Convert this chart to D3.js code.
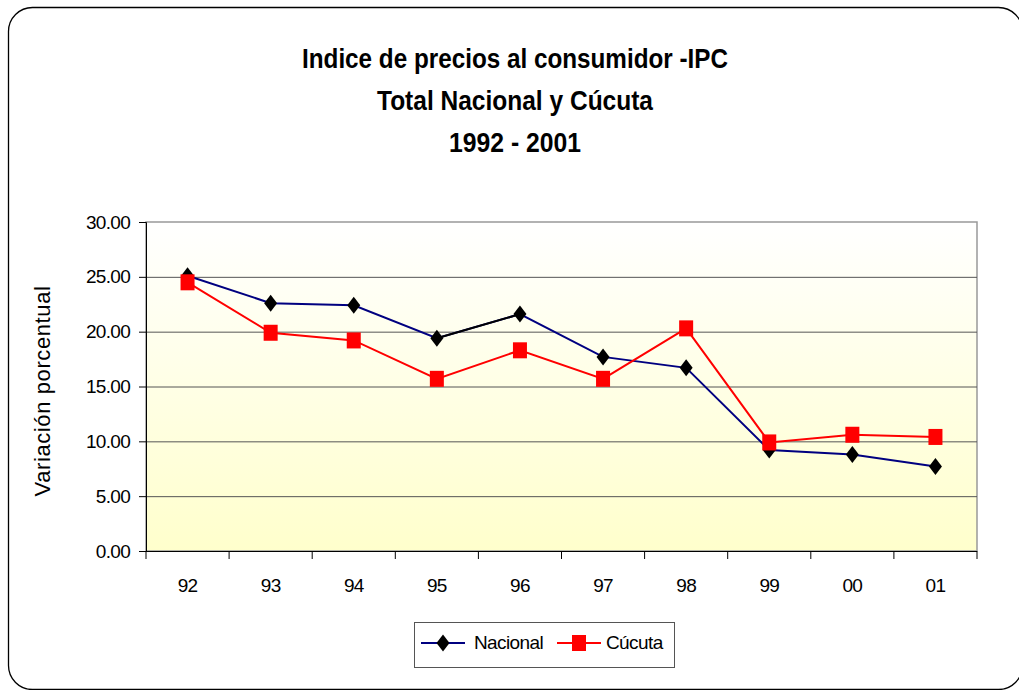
<!DOCTYPE html>
<html>
<head>
<meta charset="utf-8">
<script src="https://cdn.jsdelivr.net/npm/d3@7"></script>
<style>
  body { margin: 0; background: #fff; }
  svg { display: block; font-family: 'Liberation Sans', Arial, sans-serif; }
</style>
</head>
<body>
<svg id="chart" width="1019" height="690"></svg>
<script>
// data
const years = ['92', '93', '94', '95', '96', '97', '98', '99', '00', '01'];
const nacional = [25.1, 22.6, 22.4, 19.4, 21.6, 17.7, 16.7, 9.2, 8.8, 7.7];
const cucuta = [24.5, 19.9, 19.2, 15.7, 18.3, 15.7, 20.3, 9.9, 10.6, 10.4];
const yTicks = [0, 5, 10, 15, 20, 25, 30];
const titleLines = ['Indice de precios al consumidor -IPC', 'Total Nacional y Cúcuta', '1992 - 2001'];
// the 95-96 piece of the Nacional line is drawn black in the original
const blackSegment = ['95', '96'];

const svg = d3.select('#chart');
const plot = { left: 146, top: 222, right: 977, bottom: 551 };

// outer rounded frame, right and bottom run off the picture
svg.append('rect')
  .attr('x', 8.5).attr('y', 7.5)
  .attr('width', 1014).attr('height', 682)
  .attr('rx', 24)
  .attr('fill', 'none')
  .attr('stroke', '#000')
  .attr('stroke-width', 1.3);

// title
const titleWidths = [426, 276, 132];
svg.append('g')
  .selectAll('text')
  .data(titleLines)
  .join('text')
  .attr('x', 515)
  .attr('y', (d, i) => 68 + i * 42)
  .attr('text-anchor', 'middle')
  .attr('font-size', 28)
  .attr('font-weight', 'bold')
  .attr('textLength', (d, i) => titleWidths[i])
  .attr('lengthAdjust', 'spacingAndGlyphs')
  .text((d) => d);

const x = d3.scaleBand().domain(years).range([plot.left, plot.right]);
const y = d3.scaleLinear().domain([0, 30]).range([plot.bottom, plot.top]);

// plot background gradient
const grad = svg.append('defs').append('linearGradient')
  .attr('id', 'bg').attr('x1', 0).attr('y1', 0).attr('x2', 0).attr('y2', 1);
grad.append('stop').attr('offset', '0%').attr('stop-color', '#ffffff');
grad.append('stop').attr('offset', '100%').attr('stop-color', '#ffffcc');

svg.append('rect')
  .attr('x', plot.left).attr('y', plot.top)
  .attr('width', plot.right - plot.left).attr('height', plot.bottom - plot.top)
  .attr('fill', 'url(#bg)')
  .attr('stroke', '#999')
  .attr('stroke-width', 1.5);

// gridlines
svg.append('g')
  .selectAll('line')
  .data(yTicks.filter((t) => t > 0 && t < 30))
  .join('line')
  .attr('x1', plot.left).attr('x2', plot.right)
  .attr('y1', (d) => y(d) + 0.5).attr('y2', (d) => y(d) + 0.5)
  .attr('stroke', '#555')
  .attr('stroke-width', 1);

// y axis
const yAxis = svg.append('g')
  .attr('transform', `translate(${plot.left},0)`)
  .call(d3.axisLeft(y).tickValues(yTicks).tickFormat(d3.format('.2f')).tickSize(7).tickPadding(9));
yAxis.select('.domain').attr('stroke', '#000');
yAxis.selectAll('.tick line').attr('stroke', '#000');
yAxis.selectAll('text').attr('font-size', 19).attr('letter-spacing', -0.7)
  .attr('font-family', 'Liberation Sans, Arial, sans-serif').attr('fill', '#000');

// x axis: ticks fall between categories
const xAxis = svg.append('g')
  .attr('transform', `translate(0,${plot.bottom})`)
  .call(d3.axisBottom(x).tickSize(0).tickPadding(28));
xAxis.select('.domain').attr('stroke', '#000').attr('d', `M${plot.left},0.5H${plot.right}`);
xAxis.selectAll('text').attr('font-size', 19).attr('letter-spacing', -0.7)
  .attr('font-family', 'Liberation Sans, Arial, sans-serif').attr('fill', '#000');
xAxis.selectAll('.sep')
  .data(years.concat(['end']))
  .join('line')
  .attr('class', 'sep')
  .attr('x1', (d, i) => plot.left + i * x.bandwidth())
  .attr('x2', (d, i) => plot.left + i * x.bandwidth())
  .attr('y1', 0).attr('y2', 8)
  .attr('stroke', '#000');

// y title
svg.append('text')
  .attr('transform', 'translate(50,391) rotate(-90)')
  .attr('text-anchor', 'middle')
  .attr('font-size', 22)
  .attr('letter-spacing', 0.6)
  .text('Variación porcentual');

const cx = (d, i) => x(years[i]) + x.bandwidth() / 2;
const line = d3.line().x(cx).y((d) => y(d));

svg.append('path')
  .datum(nacional)
  .attr('d', line)
  .attr('fill', 'none')
  .attr('stroke', '#000080')
  .attr('stroke-width', 2);

const bi = years.indexOf(blackSegment[0]);
svg.append('path')
  .datum(nacional.slice(bi, bi + 2))
  .attr('d', d3.line().x((d, i) => cx(d, bi + i)).y((d) => y(d)))
  .attr('fill', 'none')
  .attr('stroke', '#000')
  .attr('stroke-width', 2);

svg.append('path')
  .datum(cucuta)
  .attr('d', line)
  .attr('fill', 'none')
  .attr('stroke', '#ff0000')
  .attr('stroke-width', 2);

const diamond = 'M0,-8.5L6.5,0L0,8.5L-6.5,0Z';

svg.append('g')
  .selectAll('path')
  .data(nacional)
  .join('path')
  .attr('d', diamond)
  .attr('transform', (d, i) => `translate(${cx(d, i)},${y(d)})`)
  .attr('fill', '#000');

svg.append('g')
  .selectAll('rect')
  .data(cucuta)
  .join('rect')
  .attr('x', (d, i) => cx(d, i) - 7)
  .attr('y', (d) => y(d) - 8)
  .attr('width', 14).attr('height', 16)
  .attr('fill', '#ff0000');

// legend
const legend = svg.append('g');
legend.append('rect')
  .attr('x', 414.5).attr('y', 622.5)
  .attr('width', 260).attr('height', 45)
  .attr('fill', '#fff')
  .attr('stroke', '#555')
  .attr('stroke-width', 1);

legend.append('line').attr('x1', 421).attr('x2', 465).attr('y1', 643).attr('y2', 643)
  .attr('stroke', '#000080').attr('stroke-width', 2);
legend.append('path').attr('d', diamond).attr('transform', 'translate(443,643)').attr('fill', '#000');
legend.append('text').attr('x', 474).attr('y', 649).attr('font-size', 19).attr('letter-spacing', -0.6).text('Nacional');

legend.append('line').attr('x1', 557).attr('x2', 601).attr('y1', 643).attr('y2', 643)
  .attr('stroke', '#ff0000').attr('stroke-width', 2);
legend.append('rect').attr('x', 572).attr('y', 635).attr('width', 14).attr('height', 16).attr('fill', '#ff0000');
legend.append('text').attr('x', 606).attr('y', 649).attr('font-size', 19).attr('letter-spacing', -0.6).text('Cúcuta');
</script>
</body>
</html>
